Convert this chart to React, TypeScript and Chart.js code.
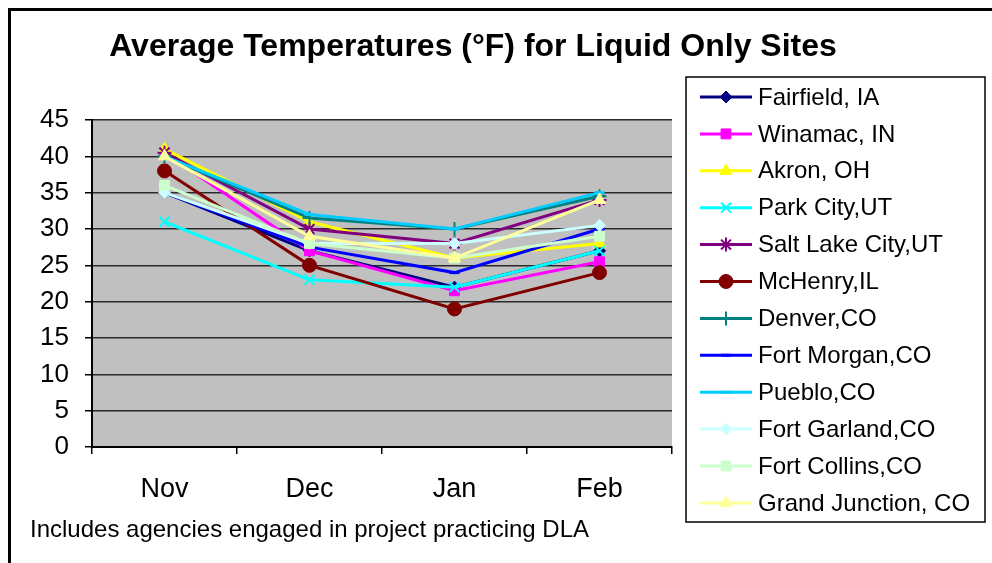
import React, { useEffect, useRef } from "react";
import { Chart, registerables } from "chart.js";
import { drawPoint } from "chart.js/helpers";

Chart.register(...registerables);

const categories = ["Nov", "Dec", "Jan", "Feb"];
const yTicks = [0, 5, 10, 15, 20, 25, 30, 35, 40, 45];

const siteNames = [
  "Fairfield, IA",
  "Winamac, IN",
  "Akron, OH",
  "Park City,UT",
  "Salt Lake City,UT",
  "McHenry,IL",
  "Denver,CO",
  "Fort Morgan,CO",
  "Pueblo,CO",
  "Fort Garland,CO",
  "Fort Collins,CO",
  "Grand Junction, CO",
];

const fairfield = [35, 27, 22, 27];
const winamac = [40.5, 27, 21.5, 25.5];
const akron = [41, 31, 26, 28];
const parkCity = [31, 23, 22, 27];
const saltLake = [40.5, 30, 28, 34];
const mcHenry = [38, 25, 19, 24];
const denver = [40, 31.5, 30, 34.5];
const fortMorgan = [35, 27.5, 24, 30];
const pueblo = [40, 32, 30, 35];
const fortGarland = [35, 28, 28, 30.5];
const fortCollins = [36, 28, 26, 29];
const grandJunction = [40, 29, 26, 34];

const seriesValues = [
  fairfield, winamac, akron, parkCity, saltLake, mcHenry,
  denver, fortMorgan, pueblo, fortGarland, fortCollins, grandJunction,
];

const colors = [
  "#000080", "#FF00FF", "#FFFF00", "#00FFFF", "#800080", "#800000",
  "#008080", "#0000FF", "#00CCFF", "#CCFFFF", "#CCFFCC", "#FFFF99",
];
const styles: any[] = [
  "rectRot", "rect", "triangle", "crossRot", "star", "circle",
  "cross", "line", "line", "rectRot", "rect", "triangle",
];
const radii = [6, 7, 7, 7, 7, 7, 7, 5, 5, 6, 7, 7];
const markerBorder = [1, 1, 1, 2, 2, 1, 2, 3, 3, 1, 1, 1];

const FONT = "'Liberation Sans', Arial, sans-serif";

const decorPlugin = {
  id: "decor",
  beforeDraw(chart: any) {
    const { ctx, chartArea } = chart;
    ctx.save();
    ctx.fillStyle = "#ffffff";
    ctx.fillRect(0, 0, chart.width, chart.height);
    ctx.fillStyle = "#C0C0C0";
    ctx.fillRect(chartArea.left, chartArea.top, chartArea.right - chartArea.left, chartArea.bottom - chartArea.top);
    // outer frame
    ctx.strokeStyle = "#000";
    ctx.lineWidth = 3;
    ctx.beginPath();
    ctx.moveTo(9.5, chart.height + 5);
    ctx.lineTo(9.5, 9.5);
    ctx.lineTo(chart.width + 5, 9.5);
    ctx.stroke();
    ctx.restore();
  },
  afterDraw(chart: any) {
    const { ctx } = chart;
    ctx.save();
    // title
    ctx.fillStyle = "#000";
    ctx.font = `bold 32px ${FONT}`;
    ctx.textAlign = "center";
    ctx.textBaseline = "middle";
    ctx.fillText("Average Temperatures (°F) for Liquid Only Sites", 473, 47);
    // footnote
    ctx.font = `24px ${FONT}`;
    ctx.textAlign = "left";
    ctx.fillText("Includes agencies engaged in project practicing DLA", 30, 530);
    // legend
    ctx.fillStyle = "#fff";
    ctx.fillRect(686, 77, 299, 445);
    ctx.strokeStyle = "#000";
    ctx.lineWidth = 1.5;
    ctx.strokeRect(686, 77, 299, 445);
    chart.data.datasets.forEach((ds: any, i: number) => {
      const y = 97 + i * 36.9;
      ctx.strokeStyle = ds.borderColor;
      ctx.lineWidth = 3;
      ctx.beginPath();
      ctx.moveTo(700, y);
      ctx.lineTo(752, y);
      ctx.stroke();
      ctx.fillStyle = ds.pointBackgroundColor;
      ctx.strokeStyle = ds.pointBorderColor;
      ctx.lineWidth = ds.pointBorderWidth;
      drawPoint(ctx, { pointStyle: ds.pointStyle, radius: ds.pointRadius, rotation: 0, borderWidth: ds.pointBorderWidth } as any, 726, y);
      ctx.fillStyle = "#000";
      ctx.font = `24px ${FONT}`;
      ctx.textAlign = "left";
      ctx.textBaseline = "middle";
      ctx.fillText(ds.label, 758, y + 1);
    });
    ctx.restore();
  },
};

export default function App() {
  const ref = useRef<HTMLCanvasElement>(null);
  useEffect(() => {
    const n = siteNames.length;
    const chart = new Chart(ref.current!, {
      type: "line",
      data: {
        labels: categories,
        datasets: siteNames.map((name, i) => ({
          label: name,
          data: seriesValues[i],
          borderColor: colors[i],
          backgroundColor: colors[i],
          borderWidth: 3,
          pointStyle: styles[i],
          pointRadius: radii[i],
          pointBackgroundColor: colors[i],
          pointBorderColor: colors[i],
          pointBorderWidth: markerBorder[i],
          tension: 0,
          order: n - 1 - i,
        })),
      },
      options: {
        responsive: false,
        animation: false,
        layout: { padding: { left: 20, right: 320, top: 120, bottom: 56 } },
        plugins: { legend: { display: false }, title: { display: false }, tooltip: { enabled: false } },
        scales: {
          x: {
            offset: true,
            grid: { offset: true, drawOnChartArea: false, drawTicks: true, tickLength: 7, color: "#000", lineWidth: 1.5 },
            border: { color: "#000", width: 2 },
            ticks: { color: "#000", font: { family: FONT, size: 27 }, padding: 19 },
            afterFit(scale: any) { scale.height = 60; },
          },
          y: {
            min: 0,
            max: 45,
            afterBuildTicks(scale: any) { scale.ticks = yTicks.map((v) => ({ value: v })); },
            grid: { color: "#2a2a2a", lineWidth: 1.5, tickColor: "#000", tickLength: 7, drawTicks: true },
            border: { color: "#000", width: 2 },
            ticks: { color: "#000", font: { family: FONT, size: 26 }, padding: 16 },
            afterFit(scale: any) { scale.width = 72; },
          },
        },
      },
      plugins: [decorPlugin],
    });
    return () => chart.destroy();
  }, []);
  return (
    <div style={{ position: "absolute", left: 0, top: 0, width: 992, height: 563 }}>
      <canvas ref={ref} width={992} height={563} />
    </div>
  );
}
